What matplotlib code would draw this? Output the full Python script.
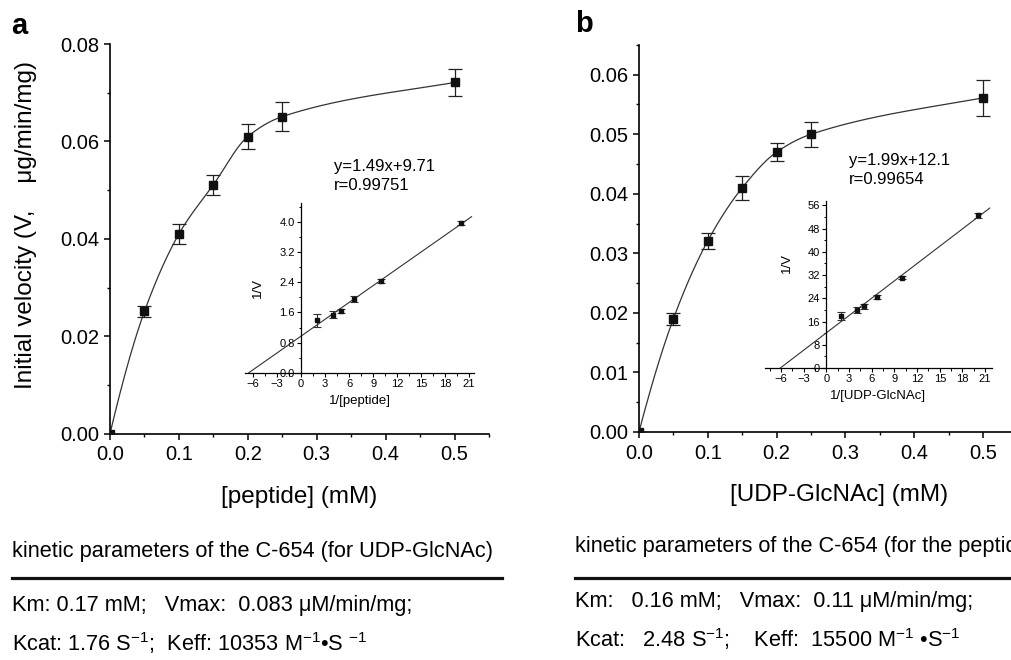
import numpy as np
import matplotlib
matplotlib.use("Agg")
import matplotlib.pyplot as plt
from matplotlib.lines import Line2D
from matplotlib.ticker import MultipleLocator

plt.rcParams["font.family"] = ["Liberation Sans", "DejaVu Sans"]
plt.rcParams["mathtext.fontset"] = "custom"
plt.rcParams["mathtext.rm"] = "Liberation Sans"
plt.rcParams["mathtext.it"] = "Liberation Sans:italic"
plt.rcParams["mathtext.bf"] = "Liberation Sans:bold"

# ---- panel a: peptide titration ----
peptide_mM = [0.0, 0.05, 0.10, 0.15, 0.20, 0.25, 0.50]
velocity_a = [0.0, 0.0251, 0.0410, 0.0511, 0.0610, 0.0651, 0.0721]
velocity_a_err = [0.0, 0.0012, 0.0020, 0.0020, 0.0026, 0.0030, 0.0028]
lb_a_err = [0.05, 0.05, 0.07, 0.05, 0.09, 0.16]
lb_a_slope, lb_a_icpt = 0.149, 0.971
eq_a = ["y=1.49x+9.71", "r=0.99751"]

# ---- panel b: UDP-GlcNAc titration ----
udp_mM = [0.0, 0.05, 0.10, 0.15, 0.20, 0.25, 0.50]
velocity_b = [0.0, 0.0190, 0.0321, 0.0410, 0.0470, 0.0500, 0.0561]
velocity_b_err = [0.0, 0.0010, 0.0014, 0.0020, 0.0015, 0.0021, 0.0030]
lb_b_err = [0.9, 0.6, 0.7, 0.9, 1.1, 1.4]
lb_b_slope, lb_b_icpt = 1.99, 12.1
eq_b = ["y=1.99x+12.1", "r=0.99654"]

text_a = ["kinetic parameters of the C-654 (for UDP-GlcNAc)",
          "Km: 0.17 mM;   Vmax:  0.083 \u03bcM/min/mg;",
          "Kcat: 1.76 S$^{-1}$;  Keff: 10353 M$^{-1}$\u2022S $^{-1}$"]
text_b = ["kinetic parameters of the C-654 (for the peptide)",
          "Km:   0.16 mM;   Vmax:  0.11 \u03bcM/min/mg;",
          "Kcat:   2.48 S$^{-1}$;    Keff:  15500 M$^{-1}$ \u2022S$^{-1}$"]


def smooth_curve(x, y, xs, end_factor=0.85):
    """Monotone cubic Hermite curve through the measured points."""
    x = np.asarray(x, float); y = np.asarray(y, float)
    h = np.diff(x); d = np.diff(y) / h
    n = len(x)
    m = np.zeros(n)
    for k in range(1, n - 1):
        if d[k - 1] * d[k] > 0:
            w1 = 2 * h[k] + h[k - 1]; w2 = h[k] + 2 * h[k - 1]
            m[k] = (w1 + w2) / (w1 / d[k - 1] + w2 / d[k])
    m[0] = ((2 * h[0] + h[1]) * d[0] - h[0] * d[1]) / (h[0] + h[1])
    if np.sign(m[0]) != np.sign(d[0]):
        m[0] = 0
    m[-1] = end_factor * d[-1]
    idx = np.clip(np.searchsorted(x, xs) - 1, 0, n - 2)
    t = (xs - x[idx]) / h[idx]
    h00 = 2 * t**3 - 3 * t**2 + 1; h10 = t**3 - 2 * t**2 + t
    h01 = -2 * t**3 + 3 * t**2; h11 = t**3 - t**2
    return (h00 * y[idx] + h10 * h[idx] * m[idx]
            + h01 * y[idx + 1] + h11 * h[idx] * m[idx + 1])


fig = plt.figure(figsize=(10.11, 6.6), dpi=100)

TICK_FS = 14.5
LABEL_FS = 17.5


def main_panel(rect, s, v, verr, ylim, ymaj, xlabel, ylabel):
    ax = fig.add_axes(rect)
    xs = np.linspace(0, s[-1], 300)
    ax.plot(xs, smooth_curve(s, v, xs), color="#333333", lw=0.9, zorder=2)
    ax.errorbar(s, v, yerr=verr, fmt="s", ms=5.5, color="#111111",
                ecolor="#222222", elinewidth=0.9, capsize=5, capthick=0.9,
                zorder=3)
    ax.set_xlim(0, 0.55)
    ax.set_ylim(*ylim)
    ax.xaxis.set_major_locator(MultipleLocator(0.1))
    ax.xaxis.set_minor_locator(MultipleLocator(0.05))
    ax.yaxis.set_major_locator(MultipleLocator(ymaj))
    ax.yaxis.set_minor_locator(MultipleLocator(ymaj / 2))
    ax.xaxis.set_major_formatter(plt.FuncFormatter(lambda x, p: f"{x:.1f}"))
    ax.yaxis.set_major_formatter(plt.FuncFormatter(lambda y, p: f"{y:.2f}"))
    for sp in ("top", "right"):
        ax.spines[sp].set_visible(False)
    for sp in ("left", "bottom"):
        ax.spines[sp].set_linewidth(1.2)
    ax.tick_params(which="major", direction="out", length=4.5, width=1.1,
                   labelsize=TICK_FS)
    ax.tick_params(which="minor", direction="out", length=2.5, width=1.0)
    ax.tick_params(axis="x", pad=4)
    ax.tick_params(axis="y", pad=3)
    ax.set_xlabel(xlabel, fontsize=LABEL_FS, labelpad=14)
    if ylabel:
        ax.set_ylabel(ylabel, fontsize=LABEL_FS, labelpad=6)
    return ax


def inset_panel(rect, s, v, scale, err, slope, icpt, xlim, ylim, ymaj, yfmt,
                xlabel):
    ax = fig.add_axes(rect)
    ax.patch.set_visible(False)
    inv_s = [1.0 / a for a in s[1:]]
    inv_v = [scale / b for b in v[1:]]
    x0 = -icpt / slope
    xl = np.array([x0, xlim[1] - 0.3])
    ax.plot(xl, slope * xl + icpt, color="#333333", lw=0.8, zorder=2)
    ax.errorbar(inv_s, inv_v, yerr=err, fmt="s", ms=3, color="#111111",
                ecolor="#333333", elinewidth=0.8, capsize=2.8, capthick=0.8,
                zorder=3)
    ax.set_xlim(*xlim)
    ax.set_ylim(*ylim)
    ax.spines["left"].set_position(("data", 0))
    for sp in ("top", "right"):
        ax.spines[sp].set_visible(False)
    for sp in ("left", "bottom"):
        ax.spines[sp].set_linewidth(0.9)
    ax.xaxis.set_major_locator(MultipleLocator(3))
    ax.xaxis.set_minor_locator(MultipleLocator(1.5))
    ax.yaxis.set_major_locator(MultipleLocator(ymaj))
    ax.yaxis.set_minor_locator(MultipleLocator(ymaj / 2))
    ax.yaxis.set_major_formatter(plt.FuncFormatter(lambda y, p: yfmt.format(y)))
    ax.tick_params(which="major", direction="out", length=3, width=0.8,
                   labelsize=8, pad=1.5)
    ax.tick_params(which="minor", direction="out", length=1.8, width=0.7)
    ax.set_xlabel(xlabel, fontsize=9.5, labelpad=4)
    ax.set_ylabel("1/V", fontsize=9.5)
    return ax


# panel a
ax_a = main_panel([0.1088, 0.343, 0.3749, 0.5903], peptide_mM, velocity_a,
                  velocity_a_err, (0, 0.08), 0.02, "[peptide] (mM)",
                  "Initial velocity (V,    \u03bcg/min/mg)")
ax_a.yaxis.set_label_coords(-0.193, 0.535)
ax_a.xaxis.set_label_coords(0.5, -0.135)
in_a = inset_panel([0.2423, 0.4353, 0.2265, 0.2567], peptide_mM, velocity_a,
                   0.1, lb_a_err, lb_a_slope, lb_a_icpt, (-7.0, 21.6),
                   (0, 4.5), 0.8, "{:.1f}", "1/[peptide]")
in_a.yaxis.set_label_coords(-4.6, 2.25, transform=in_a.transData)
fig.text(334 / 1011, 1 - 166.7 / 660, eq_a[0], fontsize=12, va="center",
         ha="left")
fig.text(334 / 1011, 1 - 185.7 / 660, eq_a[1], fontsize=12, va="center",
         ha="left")

# panel b
ax_b = main_panel([0.632, 0.3455, 0.3743, 0.5864], udp_mM, velocity_b,
                  velocity_b_err, (0, 0.065), 0.01, "[UDP-GlcNAc] (mM)", None)
ax_b.xaxis.set_label_coords(0.53, -0.135)
in_b = inset_panel([0.7567, 0.4424, 0.2245, 0.2530], udp_mM, velocity_b,
                   1.0, lb_b_err, lb_b_slope, lb_b_icpt, (-8.1, 21.9),
                   (0, 57.5), 8, "{:.0f}", "1/[UDP-GlcNAc]")
in_b.yaxis.set_label_coords(-4.4, 36, transform=in_b.transData)
fig.text(849 / 1011, 1 - 160.7 / 660, eq_b[0], fontsize=12, va="center",
         ha="left")
fig.text(849 / 1011, 1 - 180 / 660, eq_b[1], fontsize=12, va="center",
         ha="left")

# panel letters
fig.text(19 / 1011, 1 - 26 / 660, "a", fontsize=21, fontweight="bold",
         ha="center", va="center")
fig.text(584 / 1011, 1 - 24 / 660, "b", fontsize=21, fontweight="bold",
         ha="center", va="center")

# kinetic parameter tables
BODY_FS = 15.7


def param_block(x_px, y_title, y_rule, y1, y2, x_end, lines):
    fig.text(x_px / 1011, 1 - y_title / 660, lines[0], fontsize=BODY_FS,
             ha="left", va="center")
    fig.add_artist(Line2D([x_px / 1011, x_end / 1011],
                          [1 - y_rule / 660, 1 - y_rule / 660],
                          transform=fig.transFigure, color="#111111", lw=2.3))
    fig.text(x_px / 1011, 1 - y1 / 660, lines[1], fontsize=BODY_FS,
             ha="left", va="center")
    fig.text(x_px / 1011, 1 - y2 / 660, lines[2], fontsize=BODY_FS,
             ha="left", va="center")


param_block(11.7, 551.7, 578.3, 606, 643, 501.7, text_a)
param_block(575, 546.7, 578.3, 601, 639.5, 1011, text_b)

fig.savefig("out.png", dpi=100)
